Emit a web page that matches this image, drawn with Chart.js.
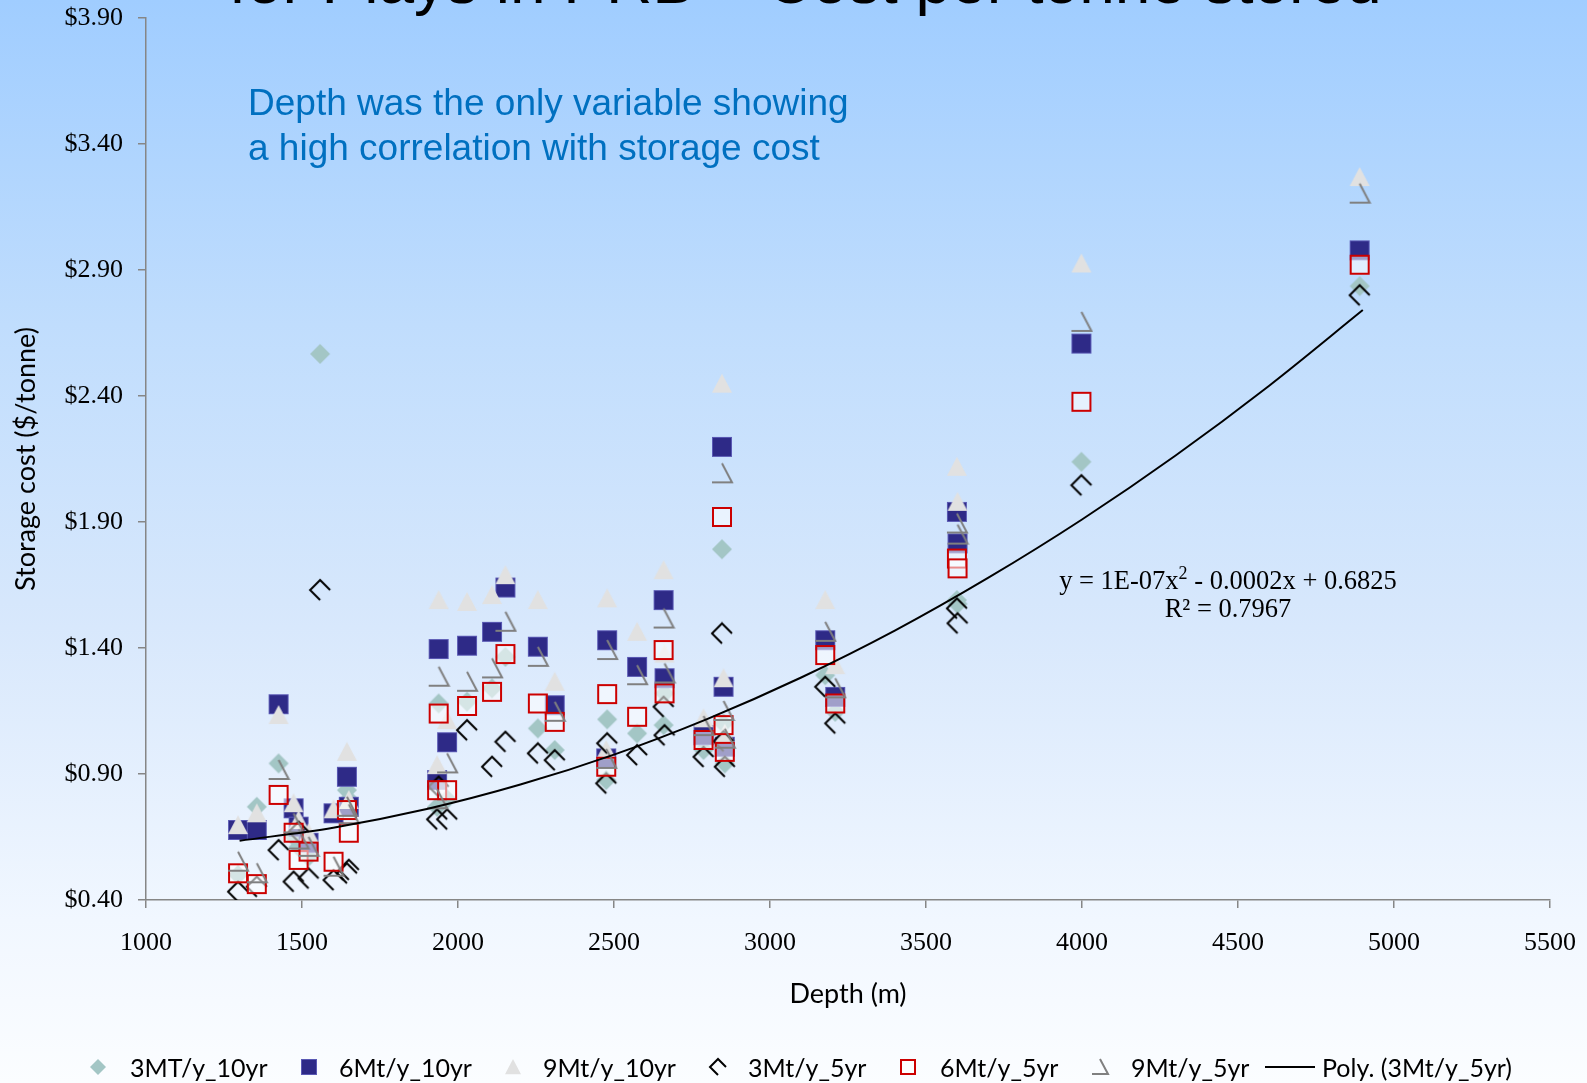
<!DOCTYPE html>
<html>
<head>
<meta charset="utf-8">
<script src="https://cdn.jsdelivr.net/npm/chart.js@4.4.1/dist/chart.umd.min.js"></script>
<style>
  html, body { margin: 0; padding: 0; }
  body {
    width: 1587px; height: 1083px; overflow: hidden; position: relative;
    background: linear-gradient(to bottom, #a0cdff 0%, #c0ddfd 30%, #d8e8fc 58%, #f1f7ff 85%, #fbfdff 100%);
  }
  #chart { position: absolute; left: 0; top: 0; }
  .title { position: absolute; left: 229px; top: -51px; font: 64px/64px "Liberation Sans", Arial, sans-serif; color: #000; white-space: nowrap; }
  .note { position: absolute; left: 248px; top: 80px; font: 37px/45px "Liberation Sans", Arial, sans-serif; color: #0070c0; white-space: nowrap; }
  .eq { position: absolute; left: 1028px; width: 400px; top: 566px; text-align: center; font: 26.5px/28px "Liberation Serif", serif; color: #000; }
  .lg { position: absolute; top: 1052px; font: 25px/30px Lato, sans-serif; color: #000; white-space: nowrap; }
  .lgmark { position: absolute; }
</style>
</head>
<body>
<canvas id="chart" width="1587" height="1083"></canvas>
<div class="title">for Plays in PRB – Cost per tonne stored</div>
<div class="note">Depth was the only variable showing<br>a high correlation with storage cost</div>
<div class="eq">y = 1E-07x<sup style="font-size:18px;line-height:0">2</sup> - 0.0002x + 0.6825<br>R² = 0.7967</div>
<div id="legend"></div>
<script>
// depth of each site (m)
const depths = [1295, 1355, 1425, 1473, 1489, 1521, 1558, 1601, 1644, 1650, 1938, 1933, 1965, 2029, 2109, 2152, 2256, 2310,
  2478, 2475, 2574, 2659, 2662, 2787, 2846, 2851, 2855, 3177, 3209, 3599, 3601, 3998, 4890];

// storage cost ($/tonne) per scenario
const cost3Mt10 = [0.50, 0.77, 0.942, 0.651, 0.611, 0.572, 2.567, null, 0.836, 0.80, 1.18, 0.77, 0.80, 1.187, 1.24, 1.365, 1.081, 0.995,
  1.117, 0.876, 1.061, 1.094, 1.22, 0.995, 1.792, 1.10, 0.942, 1.292, 1.147, 1.59, 1.575, 2.139, 2.836];
const cost6Mt10 = [0.678, 0.678, 1.177, 0.764, 0.691, 0.627, null, 0.744, 0.889, 0.77, 1.396, 0.876, 1.026, 1.409, 1.464, 1.64, 1.405, 1.173,
  1.431, 0.962, 1.325, 1.59, 1.28, 1.054, 2.198, 1.246, 1.008, 1.431, 1.206, 1.94, 1.815, 2.608, 2.978];
const cost9Mt10 = [0.697, 0.744, 1.134, 0.784, 0.717, 0.665, null, 0.76, 0.988, 0.797, 1.59, 0.935, 1.114, 1.583, 1.61, 1.689, 1.59, 1.266,
  1.597, 0.995, 1.464, 1.709, 1.378, 1.121, 2.449, 1.28, 1.06, 1.59, 1.332, 2.119, 1.98, 2.926, 3.269];
const cost3Mt5 = [0.433, 0.453, 0.598, 0.473, 0.671, 0.486, 1.63, 0.479, 0.506, 0.52, 0.85, 0.72, 0.72, 1.074, 0.929, 1.028, 0.982, 0.955,
  1.022, 0.863, 0.975, 1.167, 1.054, 0.968, 1.458, 1.03, 0.929, 1.246, 1.101, 1.557, 1.498, 2.046, 2.80];
const cost6Mt5 = [0.506, 0.463, 0.817, 0.667, 0.559, 0.592, null, 0.552, 0.757, 0.667, 1.14, 0.836, 0.836, 1.17, 1.226, 1.376, 1.18, 1.107,
  1.217, 0.929, 1.127, 1.392, 1.22, 1.035, 1.92, 1.094, 0.988, 1.372, 1.18, 1.755, 1.716, 2.377, 2.921];
const cost9Mt5 = [0.552, 0.506, 0.916, 0.704, 0.64, 0.611, null, 0.532, 0.77, 0.74, 1.286, 0.80, 0.942, 1.266, 1.319, 1.504, 1.365, 1.147,
  1.392, 0.96, 1.292, 1.517, 1.299, 1.09, 2.093, 1.15, 1.04, 1.464, 1.24, 1.894, 1.85, 2.694, 3.203];

// poly trendline of 3Mt/y_5yr
const trendDepths = [1300, 1600, 1900, 2200, 2500, 2800, 3100, 3400, 3700, 4000, 4300, 4600, 4900];
const trendCost = [0.635, 0.687, 0.761, 0.858, 0.977, 1.119, 1.283, 1.469, 1.679, 1.910, 2.164, 2.441, 2.741];

const xTicks = [1000, 1500, 2000, 2500, 3000, 3500, 4000, 4500, 5000, 5500];
const yTicks = [0.4, 0.9, 1.4, 1.9, 2.4, 2.9, 3.4, 3.9];

// marker images (excel-ish symbols)
function mark(kind, s) {
  const c = document.createElement('canvas');
  c.width = c.height = s;
  const g = c.getContext('2d');
  const h = s / 2, r = s / 2 - 2;
  g.beginPath();
  if (kind === 'diamond') {
    g.moveTo(h, h - r); g.lineTo(h + r, h); g.lineTo(h, h + r); g.lineTo(h - r, h); g.closePath();
    g.fillStyle = '#a3c6c5'; g.fill();
  } else if (kind === 'square') {
    g.fillStyle = '#2e2a87'; g.fillRect(h - r, h - r, 2 * r, 2 * r);
    g.strokeStyle = 'rgba(110,110,200,0.7)'; g.lineWidth = 1; g.strokeRect(h - r + 0.5, h - r + 0.5, 2 * r - 1, 2 * r - 1);
  } else if (kind === 'triangle') {
    g.moveTo(h, h - r); g.lineTo(h + r, h + r * 0.9); g.lineTo(h - r, h + r * 0.9); g.closePath();
    g.fillStyle = '#e1e1e1'; g.fill();
  } else if (kind === 'chevron') {
    g.moveTo(h + r, h); g.lineTo(h, h - r); g.lineTo(h - r, h); g.lineTo(h, h + r);
    g.strokeStyle = '#000'; g.lineWidth = 2; g.stroke();
  } else if (kind === 'redsq') {
    g.fillStyle = 'rgba(255,255,255,0.55)'; g.fillRect(h - r, h - r, 2 * r, 2 * r);
    g.strokeStyle = '#cc0000'; g.lineWidth = 2; g.strokeRect(h - r + 1, h - r + 1, 2 * r - 2, 2 * r - 2);
  } else if (kind === 'ell') {
    g.moveTo(h, h - r); g.lineTo(h + r, h + r - 1); g.lineTo(h - r, h + r - 1);
    g.strokeStyle = '#808080'; g.lineWidth = 2; g.stroke();
  } else if (kind === 'line') {
    g.moveTo(0, h); g.lineTo(s, h);
    g.strokeStyle = '#000'; g.lineWidth = 2; g.stroke();
  }
  return c;
}

const series = [
  { label: '3MT/y_10yr', values: cost3Mt10, kind: 'diamond' },
  { label: '6Mt/y_10yr', values: cost6Mt10, kind: 'square' },
  { label: '9Mt/y_10yr', values: cost9Mt10, kind: 'triangle' },
  { label: '3Mt/y_5yr', values: cost3Mt5, kind: 'chevron' },
  { label: '6Mt/y_5yr', values: cost6Mt5, kind: 'redsq' },
  { label: '9Mt/y_5yr', values: cost9Mt5, kind: 'ell' }
];

const datasets = series.map((s, i) => ({
  type: 'scatter',
  label: s.label,
  data: depths.map((d, j) => ({ x: d, y: s.values[j] })).filter(p => p.y !== null),
  pointStyle: mark(s.kind, 24),
  pointRadius: 10,
  pointHoverRadius: 10,
  order: 10 - i
}));
datasets.push({
  type: 'line',
  label: 'Poly. (3Mt/y_5yr)',
  data: trendDepths.map((d, j) => ({ x: d, y: trendCost[j] })),
  borderColor: '#000',
  borderWidth: 2,
  pointRadius: 0,
  fill: false,
  cubicInterpolationMode: 'monotone',
  order: 0
});

const axisGrey = '#868686';
const serif = { family: '"Liberation Serif", "Times New Roman", serif', size: 26 };
const sans = { family: 'Lato, "Open Sans", sans-serif', size: 27 };

new Chart(document.getElementById('chart'), {
  type: 'scatter',
  data: { datasets },
  options: {
    responsive: false,
    animation: false,
    layout: { padding: { left: 0, right: 37, top: 18, bottom: 0 } },
    plugins: { legend: { display: false }, tooltip: { enabled: false } },
    scales: {
      x: {
        type: 'linear', min: 1000, max: 5500,
        afterBuildTicks: sc => { sc.ticks = xTicks.map(v => ({ value: v })); },
        afterFit: sc => { sc.height = 183; sc.paddingLeft = 0; sc.paddingRight = 0; },
        ticks: { autoSkip: false, maxRotation: 0, padding: 20, color: '#000', font: serif, callback: v => String(v) },
        grid: { drawOnChartArea: false, tickLength: 8, color: axisGrey, lineWidth: 1.5 },
        border: { color: axisGrey, width: 1.5 },
        title: { display: true, text: 'Depth (m)', color: '#000', font: sans, padding: { top: 0, bottom: 73 } }
      },
      y: {
        type: 'linear', min: 0.4, max: 3.9,
        afterBuildTicks: sc => { sc.ticks = yTicks.map(v => ({ value: v })); },
        afterFit: sc => { sc.width = 146; sc.paddingTop = 0; sc.paddingBottom = 0; },
        ticks: { autoSkip: false, padding: 15, color: '#000', font: serif, callback: v => '$' + v.toFixed(2) },
        grid: { drawOnChartArea: false, tickLength: 8, color: axisGrey, lineWidth: 1.5 },
        border: { color: axisGrey, width: 1.5 },
        title: { display: true, text: 'Storage cost ($/tonne)', color: '#000', font: sans, padding: { top: 10, bottom: 0 } }
      }
    }
  }
});

// legend along the bottom, placed like the original slide
const legendItems = [
  { label: '3MT/y_10yr', kind: 'diamond', mx: 98, tx: 130 },
  { label: '6Mt/y_10yr', kind: 'square', mx: 309, tx: 339 },
  { label: '9Mt/y_10yr', kind: 'triangle', mx: 513, tx: 543 },
  { label: '3Mt/y_5yr', kind: 'chevron', mx: 718, tx: 748 },
  { label: '6Mt/y_5yr', kind: 'redsq', mx: 908, tx: 940 },
  { label: '9Mt/y_5yr', kind: 'ell', mx: 1100, tx: 1131 },
  { label: 'Poly. (3Mt/y_5yr)', kind: 'line', mx: 1290, tx: 1322 }
];
const legend = document.getElementById('legend');
legendItems.forEach(it => {
  const size = it.kind === 'line' ? 50 : 20;
  const m = mark(it.kind, size);
  m.className = 'lgmark';
  m.style.left = (it.mx - size / 2) + 'px';
  m.style.top = (1067 - size / 2) + 'px';
  legend.appendChild(m);
  const t = document.createElement('div');
  t.className = 'lg';
  t.style.left = it.tx + 'px';
  t.textContent = it.label;
  legend.appendChild(t);
});
</script>
</body>
</html>
